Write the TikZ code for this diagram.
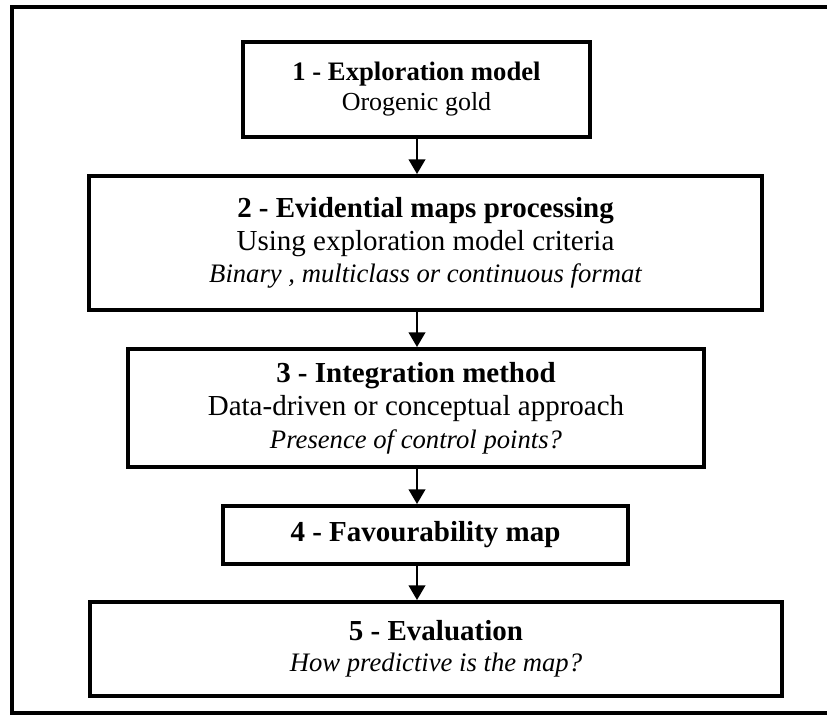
\documentclass[tikz,border=0pt]{standalone}
\usepackage{fontspec}
\setmainfont{Liberation Serif}
\usetikzlibrary{arrows.meta}
\newcommand{\bigbf}[1]{{\fontsize{21.75pt}{24.5pt}\selectfont\bfseries #1}}
\newcommand{\midit}[1]{{\fontsize{20pt}{24.5pt}\selectfont\itshape #1}}
\tikzset{
  stepbox/.style={draw=black, line width=3pt, fill=white, inner sep=0pt, align=center, text=black},
  flowarrow/.style={line width=1.5pt, -{Triangle[length=11pt,width=12.5pt]}},
  frameline/.style={line width=3pt}
}
\begin{document}
\begin{tikzpicture}[x=0.75pt, y=-0.75pt]
\useasboundingbox (0,0) rectangle (827,717);
\draw[frameline] (828,7) -- (12,7) -- (12,713) -- (828,713);
\coordinate (ax) at (417,0);
\node[stepbox, minimum width=260.25pt, minimum height=71.25pt,
      font={\fontsize{19.5pt}{22.5pt}\selectfont}] (b1) at (416.5,89.5)
  {{\fontsize{20pt}{22.5pt}\selectfont\bfseries 1 - Exploration model}\\Orogenic gold};
\node[stepbox, minimum width=504.75pt, minimum height=100.5pt,
      font={\fontsize{21.75pt}{24.5pt}\selectfont}] (b2) at (425.5,243)
  {\bigbf{2 - Evidential maps processing}\\Using exploration model criteria\\\midit{Binary , multiclass or continuous format}};
\node[stepbox, minimum width=432pt, minimum height=88.5pt,
      font={\fontsize{21.75pt}{24.6pt}\selectfont}] (b3) at (416,408)
  {\bigbf{3 - Integration method}\\Data-driven or conceptual approach\\\midit{Presence of control points?}};
\node[stepbox, minimum width=303.75pt, minimum height=43.5pt,
      font={\fontsize{21.75pt}{24.5pt}\selectfont}] (b4) at (425.5,535)
  {\bigbf{4 - Favourability map}};
\node[stepbox, minimum width=519pt, minimum height=70.5pt,
      font={\fontsize{21.75pt}{23.5pt}\selectfont}] (b5) at (436,649)
  {\bigbf{5 - Evaluation}\\\midit{How predictive is the map?}};
\draw[flowarrow] (b1.south -| ax) -- (b2.north -| ax);
\draw[flowarrow] (b2.south -| ax) -- (b3.north -| ax);
\draw[flowarrow] (b3.south -| ax) -- (b4.north -| ax);
\draw[flowarrow] (b4.south -| ax) -- (b5.north -| ax);
\end{tikzpicture}
\end{document}
